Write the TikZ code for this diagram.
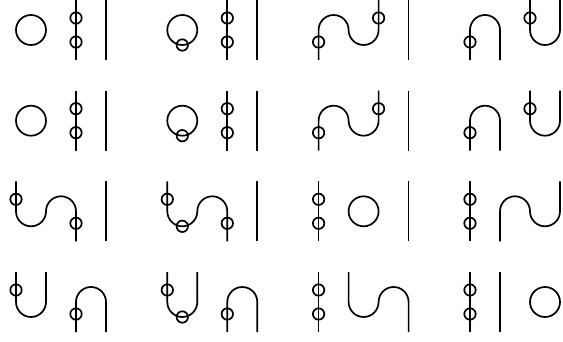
\documentclass[tikz,border=0pt]{standalone}
\usetikzlibrary{calc}
\newcommand{\Wline}[1]{\draw[wire] (#1,0) -- (#1,60);}
\newcommand{\Wbead}[2]{\draw[wire] (#1,#2) circle[radius=5.7];}
\newcommand{\Wdots}[1]{\Wline{#1}\Wbead{#1}{42}\Wbead{#1}{18}}
\newcommand{\Wloop}[1]{\draw[wire] (#1+15,30) circle[radius=15];}
\newcommand{\Wcap}[1]{\draw[wire] (#1,0) -- (#1,30)
  arc[start angle=180, end angle=0, radius=15] -- (#1+30,0);}
\newcommand{\Wcup}[1]{\draw[wire] (#1,60) -- (#1,30)
  arc[start angle=180, end angle=360, radius=15] -- (#1+30,60);}
\newcommand{\Wsup}[1]{\draw[wire] (#1,0) -- (#1,30)
  arc[start angle=180, end angle=0, radius=15]
  arc[start angle=180, end angle=360, radius=15] -- (#1+60,60);}
\newcommand{\Wsdn}[1]{\draw[wire] (#1,60) -- (#1,30)
  arc[start angle=180, end angle=360, radius=15]
  arc[start angle=180, end angle=0, radius=15] -- (#1+60,0);}

\begin{document}
\begin{tikzpicture}[x=1pt, y=1pt,
  wire/.style={line width=1.7pt},
  panel/.style={shift={#1}}]
\useasboundingbox (0,0) rectangle (563,341);

\foreach \yb in {281,190.3} {
  \begin{scope}[panel={(16,\yb)}]
    \Wloop{0} \Wdots{60} \Wline{90}
  \end{scope}
  \begin{scope}[panel={(167.3,\yb)}]
    \Wloop{0} \Wbead{15}{15} \Wdots{60} \Wline{90}
  \end{scope}
  \begin{scope}[panel={(318.6,\yb)}]
    \Wsup{0} \Wbead{0}{18} \Wbead{60}{42} \Wline{90}
  \end{scope}
  \begin{scope}[panel={(470,\yb)}]
    \Wcap{0} \Wbead{0}{18} \Wcup{60} \Wbead{60}{42}
  \end{scope}
}

\begin{scope}[panel={(16,99.7)}]
  \Wsdn{0} \Wbead{0}{42} \Wbead{60}{18} \Wline{90}
\end{scope}
\begin{scope}[panel={(167.3,99.7)}]
  \Wsdn{0} \Wbead{0}{42} \Wbead{15}{15} \Wbead{60}{18} \Wline{90}
\end{scope}
\begin{scope}[panel={(318.6,99.7)}]
  \Wdots{0} \Wloop{30} \Wline{90}
\end{scope}
\begin{scope}[panel={(470,99.7)}]
  \Wdots{0} \Wsup{30}
\end{scope}

\begin{scope}[panel={(16,9)}]
  \Wcup{0} \Wbead{0}{42} \Wcap{60} \Wbead{60}{18}
\end{scope}
\begin{scope}[panel={(167.3,9)}]
  \Wcup{0} \Wbead{0}{42} \Wbead{15}{15} \Wcap{60} \Wbead{60}{18}
\end{scope}
\begin{scope}[panel={(318.6,9)}]
  \Wdots{0} \Wsdn{30}
\end{scope}
\begin{scope}[panel={(470,9)}]
  \Wdots{0} \Wline{30} \Wloop{60}
\end{scope}
\end{tikzpicture}
\end{document}
